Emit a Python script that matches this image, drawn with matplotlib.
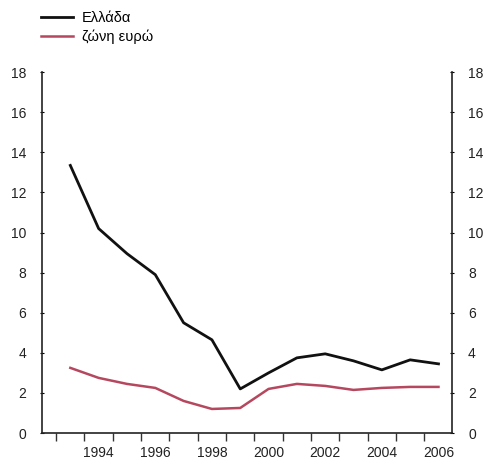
import matplotlib
matplotlib.use("Agg")
import matplotlib.pyplot as plt
from matplotlib.ticker import FixedLocator, NullFormatter

years = [1993, 1994, 1995, 1996, 1997, 1998, 1999, 2000, 2001, 2002, 2003, 2004, 2005, 2006]
greece = [13.35, 10.2, 8.95, 7.9, 5.5, 4.65, 2.2, 3.0, 3.75, 3.95, 3.6, 3.15, 3.65, 3.45]
euro = [3.25, 2.75, 2.45, 2.25, 1.6, 1.2, 1.25, 2.2, 2.45, 2.35, 2.15, 2.25, 2.3, 2.3]
series_names = ["Ελλάδα", "ζώνη ευρώ"]
year_labels = [1994, 1996, 1998, 2000, 2002, 2004, 2006]
y_ticks = [0, 2, 4, 6, 8, 10, 12, 14, 16, 18]

plt.rcParams['font.family'] = ['Liberation Sans', 'DejaVu Sans']

fig = plt.figure(figsize=(4.93, 4.72), dpi=100)
ax = fig.add_axes([0.0852, 0.0826, 0.8318, 0.7644])

l1, = ax.plot(years, greece, color='#111111', lw=2.0, label=series_names[0])
l2, = ax.plot(years, euro, color='#b5485f', lw=1.8, label=series_names[1])

ax.set_xlim(1992.0, 2006.48)
ax.set_ylim(0, 18)

ax.spines['top'].set_visible(False)
for s in ['left', 'right', 'bottom']:
    ax.spines[s].set_linewidth(1.2)
    ax.spines[s].set_color('#222222')

# x: boundary ticks without labels, labels at even years without ticks
ax.xaxis.set_major_locator(FixedLocator([y + 0.5 for y in range(1992, 2006)]))
ax.xaxis.set_major_formatter(NullFormatter())
ax.set_xticks(year_labels, minor=True)
ax.set_xticklabels([str(y) for y in year_labels], minor=True)
ax.tick_params(axis='x', which='major', direction='out', length=6, width=1.0, color='#333333')
ax.tick_params(axis='x', which='minor', length=0, pad=9, labelsize=10, labelcolor='#222222')

ax.set_yticks(y_ticks)
ax.set_yticklabels([str(v) for v in y_ticks])
ax.tick_params(axis='y', which='major', direction='inout', length=3, width=0.8,
               left=True, right=True, labelleft=True, labelright=True,
               labelsize=10, labelcolor='#222222', pad=10)

leg = ax.legend(handles=[l1, l2], loc='upper left', bbox_to_anchor=(0.065, 0.995),
                bbox_transform=fig.transFigure, frameon=False, fontsize=10.5,
                handlelength=2.2, handletextpad=0.6, labelspacing=0.3,
                borderaxespad=0.2)

fig.savefig("out.png", dpi=100, facecolor='white')
